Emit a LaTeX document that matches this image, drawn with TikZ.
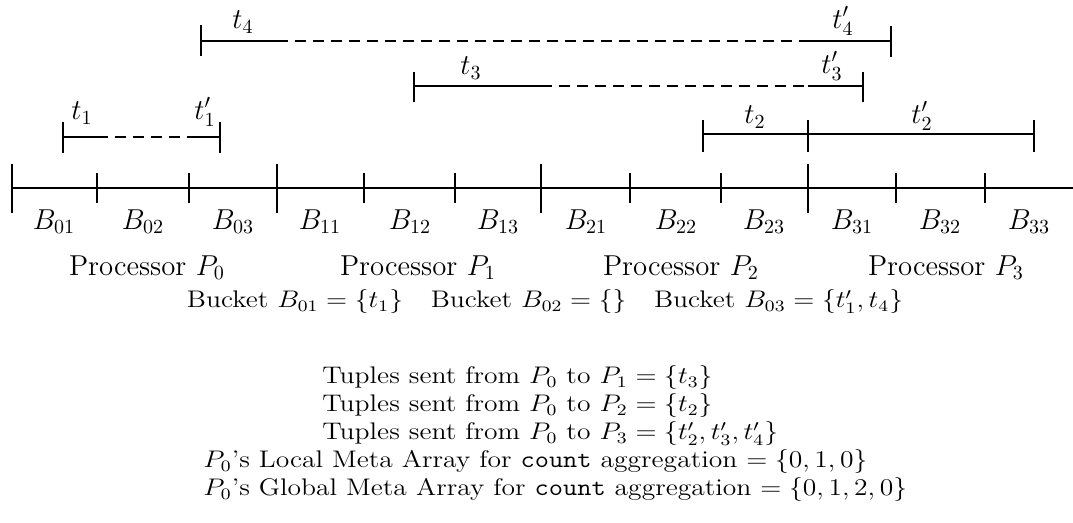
\documentclass[tikz,border=0pt]{standalone}
\usepackage{amsmath}
\usetikzlibrary{positioning}

\begin{document}
\begin{tikzpicture}[x=0.5pt, y=-0.5pt,
    axisline/.style={line width=1.4pt},
    thinline/.style={line width=0.6pt},
    gapline/.style={line width=0.6pt, dash pattern=on 5.5pt off 3.5pt},
    lbl/.style={font=\Large, inner sep=0pt},
    txt/.style={font=\large, inner sep=0pt, xscale=1.15, transform shape}]
    \useasboundingbox (0,0) rectangle (1073,523);
    % key axis with processor and bucket boundaries
    \draw[axisline](12,188)--(1073,188);
    \foreach \x in {12,277,541,808} \draw[axisline](\x,164)--(\x,213);
    \foreach \x in {97,189,364,455,630,721,896,985} \draw[thinline](\x,173)--(\x,203);
    \foreach \k/\x in {01/54,02/143,03/233,11/320,12/410,13/498,21/586,22/676,23/764,31/852,32/940,33/1029}
      \node[lbl](b\k) at (\x,222){$B_{\k}$};
    \node[lbl](p0) at (147,268){Processor $P_0$};
    \node[lbl](p1) at (418,268){Processor $P_1$};
    \node[lbl](p2) at (681,268){Processor $P_2$};
    \node[lbl](p3) at (946,268){Processor $P_3$};
    % tuple t1
    \draw[thinline](63,122)--(63,153); \draw[thinline](220,122)--(220,153);
    \draw[thinline](63,137)--(97,137); \draw[gapline](97,137)--(189,137);
    \draw[thinline](189,137)--(220,137);
    \node[lbl](t1) at (82,113){$t_1$}; \node[lbl](t1p) at (205,112){$t'_1$};
    % tuple t2
    \draw[thinline](703,120)--(703,152); \draw[thinline](808,120)--(808,152);
    \draw[thinline](1034,120)--(1034,152);
    \draw[thinline](703,134)--(1034,134);
    \node[lbl](t2) at (755,117){$t_2$}; \node[lbl](t2p) at (922,116){$t'_2$};
    % tuple t3
    \draw[thinline](414,72)--(414,102); \draw[thinline](863,72)--(863,102);
    \draw[thinline](414,86)--(541,86); \draw[gapline](541,86)--(808,86);
    \draw[thinline](808,86)--(863,86);
    \node[lbl](t3) at (471,68){$t_3$}; \node[lbl](t3p) at (832,66){$t'_3$};
    % tuple t4
    \draw[thinline](201,25)--(201,56); \draw[thinline](891,26)--(891,57);
    \draw[thinline](201,41)--(277,41); \draw[gapline](277,41)--(808,41);
    \draw[thinline](808,41)--(891,41);
    \node[lbl](t4) at (243,22){$t_4$}; \node[lbl](t4p) at (843,21){$t'_4$};
    % summary text
    \node[txt](bk) at (545,302){Bucket $B_{01}=\{t_1\}$\quad Bucket $B_{02}=\{\}$\quad Bucket $B_{03}=\{t'_1,t_4\}$};
    \node[txt, anchor=west](s1) at (322,378){Tuples sent from $P_0$ to $P_1=\{t_3\}$};
    \node[txt, below=14pt of s1.west, anchor=west](s2){Tuples sent from $P_0$ to $P_2=\{t_2\}$};
    \node[txt, below=14pt of s2.west, anchor=west](s3){Tuples sent from $P_0$ to $P_3=\{t'_2,t'_3,t'_4\}$};
    \node[txt, anchor=west](loc) at (203,462){$P_0$'s Local Meta Array for \texttt{count} aggregation $=\{0,1,0\}$};
    \node[txt, below=14pt of loc.west, anchor=west](glb){$P_0$'s Global Meta Array for \texttt{count} aggregation $=\{0,1,2,0\}$};
  \end{tikzpicture}
\end{document}
